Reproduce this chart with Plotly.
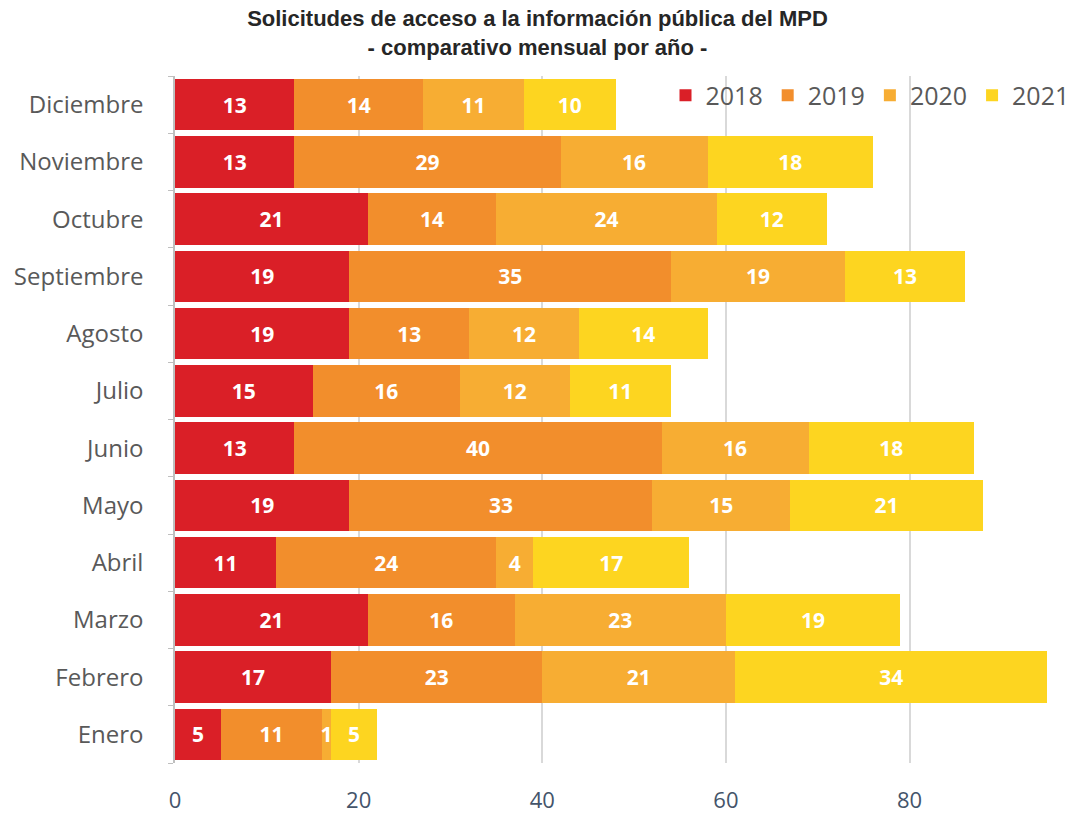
import plotly.graph_objects as go

months = ["Enero", "Febrero", "Marzo", "Abril", "Mayo", "Junio", "Julio",
          "Agosto", "Septiembre", "Octubre", "Noviembre", "Diciembre"]
v2018 = [5, 17, 21, 11, 19, 13, 15, 19, 19, 21, 13, 13]
v2019 = [11, 23, 16, 24, 33, 40, 16, 13, 35, 14, 29, 14]
v2020 = [1, 21, 23, 4, 15, 16, 12, 12, 19, 24, 16, 11]
v2021 = [5, 34, 19, 17, 21, 18, 11, 14, 13, 12, 18, 10]
years = ["2018", "2019", "2020", "2021"]
colors = ["#DA1F27", "#F28E2C", "#F7AD33", "#FDD520"]
x_ticks = [0, 20, 40, 60, 80]

fig = go.Figure()
for name, vals, col in zip(years, [v2018, v2019, v2020, v2021], colors):
    fig.add_trace(go.Bar(
        y=months, x=vals, name=name, orientation="h",
        marker=dict(color=col, line=dict(width=0)),
        text=[str(v) for v in vals], textposition="inside",
        insidetextanchor="middle", constraintext="none",
        textfont=dict(family="Open Sans", size=21, color="white", weight="bold"),
        cliponaxis=False,
    ))

fig.update_layout(
    barmode="stack", bargap=0.1,
    width=1075, height=814,
    paper_bgcolor="white", plot_bgcolor="white",
    margin=dict(l=175, r=25, t=76, b=51, autoexpand=False),
    title=dict(
        text="<b>Solicitudes de acceso a la información pública del MPD<br>- comparativo mensual por año -</b>",
        x=0.5, xanchor="center", y=0.968, yanchor="middle", yref="container",
        font=dict(family="Liberation Sans", size=22, color="#262626"),
    ),
    legend=dict(
        orientation="h", x=1.028, xanchor="right", y=1.005, yanchor="top",
        font=dict(family="Open Sans", size=25, color="#595959"),
        bgcolor="rgba(0,0,0,0)", traceorder="normal",
    ),
)
fig.update_xaxes(
    range=[0, 95.3], tickvals=x_ticks, showgrid=True, gridcolor="#D9D9D9", gridwidth=1.5,
    zeroline=False, showline=False, automargin=False,
    tickfont=dict(family="Open Sans", size=22, color="#44546A"),
    ticks="", ticklabelstandoff=22,
)
fig.update_yaxes(
    categoryorder="array", categoryarray=months, automargin=False,
    showline=True, linecolor="#BFBFBF", linewidth=1.5,
    ticks="outside", tickson="boundaries", ticklen=5, tickcolor="#BFBFBF",
    tickfont=dict(family="Open Sans", size=24, color="#595959"),
    ticklabelstandoff=25, showgrid=False,
)

fig.write_html(
    "out.html",
    config={"displayModeBar": False},
    post_script="document.body.style.margin='0';document.body.style.overflow='hidden';",
)
